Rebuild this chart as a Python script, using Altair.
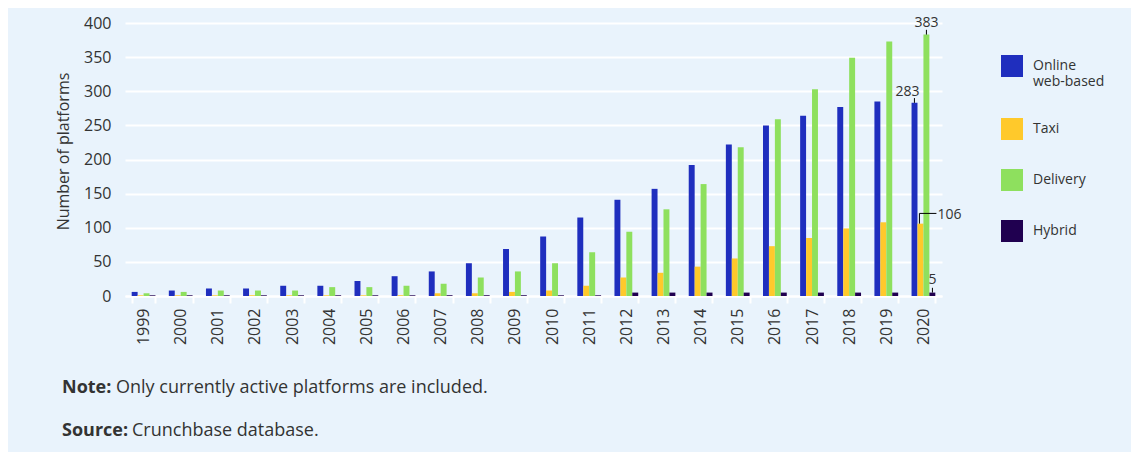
import altair as alt
import pandas as pd

years = [str(y) for y in range(1999, 2021)]
series = ["Online web-based", "Taxi", "Delivery", "Hybrid"]
online = [6, 8, 11, 11, 15, 15, 22, 29, 36, 48, 69, 87, 115, 141, 157, 192, 222, 250, 264, 277, 285, 283]
taxi = [1, 1, 1, 1, 1, 1, 1, 1, 4, 4, 6, 8, 15, 27, 34, 43, 55, 73, 85, 99, 108, 106]
delivery = [4, 6, 8, 8, 8, 13, 13, 15, 18, 27, 36, 48, 64, 94, 127, 164, 218, 259, 303, 349, 373, 383]
hybrid = [1, 1, 1, 1, 1, 1, 1, 1, 1, 1, 1, 1, 1, 5, 5, 5, 5, 5, 5, 5, 5, 5]
colors = ["#1f2ebe", "#ffc92b", "#8ee05e", "#200050"]

rows = []
for i, yr in enumerate(years):
    for s, vals in zip(series, [online, taxi, delivery, hybrid]):
        rows.append({"year": yr, "series": s, "value": vals[i]})
df = pd.DataFrame(rows)

# annotations for 2020
ann = pd.DataFrame({
    "year": ["2020"] * 4,
    "series": series,
    "value": [online[-1], taxi[-1], delivery[-1], hybrid[-1]],
})
ann["label"] = ann["value"].astype(str)

FONT = "Open Sans"
TXT = "#333333"
BG = "#e9f3fc"

xscale = alt.Scale(paddingInner=0.36, paddingOuter=0.18)
xaxis = alt.Axis(
    labelAngle=-90, labelFontSize=16, labelColor=TXT, labelPadding=5,
    domainColor="white", domainWidth=2, tickColor="white", tickWidth=2,
    tickSize=7, tickBand="extent", grid=False,
)
yscale = alt.Scale(domain=[0, 400])
yaxis = alt.Axis(
    values=list(range(0, 401, 50)), grid=True, gridColor="white", gridWidth=2,
    domain=False, ticks=False, labelFontSize=16, labelColor=TXT, labelPadding=14,
    labelOverlap=False,
    titleFontSize=16, titleFontWeight="normal", titleColor=TXT, titlePadding=12,
    titleY=128,
)
YTITLE = "Number of platforms"


def X():
    return alt.X("year:N", title=None, scale=xscale, axis=xaxis)


def Y(f):
    return alt.Y(f, title=YTITLE, scale=yscale, axis=yaxis)


bars = alt.Chart(df).mark_bar().encode(
    x=X(),
    xOffset=alt.XOffset("series:N", sort=series, scale=alt.Scale(domain=series, paddingInner=0, paddingOuter=0)),
    y=Y("value:Q"),
    color=alt.Color(
        "series:N",
        scale=alt.Scale(domain=series, range=colors),
        legend=alt.Legend(
            title=None, orient="none", legendX=876, legendY=32,
            symbolType="square", symbolSize=484, symbolStrokeWidth=0,
            labelFontSize=14, labelColor=TXT, labelOffset=10, rowPadding=29,
            padding=0,
            labelExpr="datum.label == 'Online web-based' ? ['Online', 'web-based'] : datum.label",
        ),
    ),
)

base_ann = alt.Chart(ann).encode(x=X())


def sel(name):
    return base_ann.transform_filter(alt.datum.series == name)


# 383 (Delivery)
d_rule = sel("Delivery").transform_calculate(top="datum.value + 7").mark_rule(
    color="black", strokeWidth=1, xOffset=3, x2Offset=3
).encode(y=Y("value:Q"), y2="top:Q")
d_text = sel("Delivery").mark_text(
    font=FONT, fontSize=14, color=TXT, dx=3, dy=-8, baseline="alphabetic", align="center"
).encode(y=Y("value:Q"), text="label:N")

# 283 (Online)
o_rule = sel("Online web-based").transform_calculate(top="datum.value + 7").mark_rule(
    color="black", strokeWidth=1, xOffset=-9, x2Offset=-9
).encode(y=Y("value:Q"), y2="top:Q")
o_text = sel("Online web-based").mark_text(
    font=FONT, fontSize=14, color=TXT, dx=-16, dy=-7, baseline="alphabetic", align="center"
).encode(y=Y("value:Q"), text="label:N")

# 106 (Taxi)
t_vrule = sel("Taxi").transform_calculate(top="datum.value + 15").mark_rule(
    color="black", strokeWidth=1, xOffset=-4, x2Offset=-4
).encode(y=Y("value:Q"), y2="top:Q")
t_hrule = sel("Taxi").transform_calculate(top="datum.value + 15").mark_rule(
    color="black", strokeWidth=1, xOffset=-4, x2Offset=13
).encode(y=Y("top:Q"), x2=alt.X2("year:N"))
t_text = sel("Taxi").transform_calculate(top="datum.value + 15").mark_text(
    font=FONT, fontSize=14, color=TXT, dx=14, dy=2, baseline="middle", align="left"
).encode(y=Y("top:Q"), text="label:N")

# 5 (Hybrid)
h_rule = sel("Hybrid").transform_calculate(top="datum.value + 7").mark_rule(
    color="black", strokeWidth=1, xOffset=9, x2Offset=9
).encode(y=Y("value:Q"), y2="top:Q")
h_text = sel("Hybrid").mark_text(
    font=FONT, fontSize=14, color=TXT, dx=9, dy=-9, baseline="alphabetic", align="center"
).encode(y=Y("value:Q"), text="label:N")

one = alt.Data(values=[{"k": 1}])

strip_top = alt.Chart(one).mark_rect(color="white").encode(
    x=alt.value(-125), x2=alt.value(1006), y=alt.value(-23), y2=alt.value(-15)
)
strip_left = alt.Chart(one).mark_rect(color="white").encode(
    x=alt.value(-125), x2=alt.value(-117), y=alt.value(-23), y2=alt.value(429)
)

note_b = alt.Chart(one).mark_text(
    text="Note:", font=FONT, fontSize=18, fontWeight="bold", color=TXT,
    align="left", baseline="alphabetic"
).encode(x=alt.value(-63), y=alt.value(370))
note_t = alt.Chart(one).mark_text(
    text="Only currently active platforms are included.", font=FONT, fontSize=18,
    color=TXT, align="left", baseline="alphabetic"
).encode(x=alt.value(-9), y=alt.value(370))
src_b = alt.Chart(one).mark_text(
    text="Source:", font=FONT, fontSize=18, fontWeight="bold", color=TXT,
    align="left", baseline="alphabetic"
).encode(x=alt.value(-63), y=alt.value(413))
src_t = alt.Chart(one).mark_text(
    text="Crunchbase database.", font=FONT, fontSize=18, color=TXT,
    align="left", baseline="alphabetic"
).encode(x=alt.value(7), y=alt.value(413))

chart = alt.layer(
    bars, d_rule, d_text, o_rule, o_text, t_vrule, t_hrule, t_text, h_rule, h_text,
    strip_top, strip_left, note_b, note_t, src_b, src_t,
).properties(
    width=817, height=273,
    padding={"left": 125, "top": 23, "right": 189, "bottom": 156},
    autosize=alt.AutoSizeParams(type="none"),
    background=BG,
).configure(font=FONT).configure_view(stroke="transparent")

chart.save("out.html", embed_options={"renderer": "svg", "actions": False})
